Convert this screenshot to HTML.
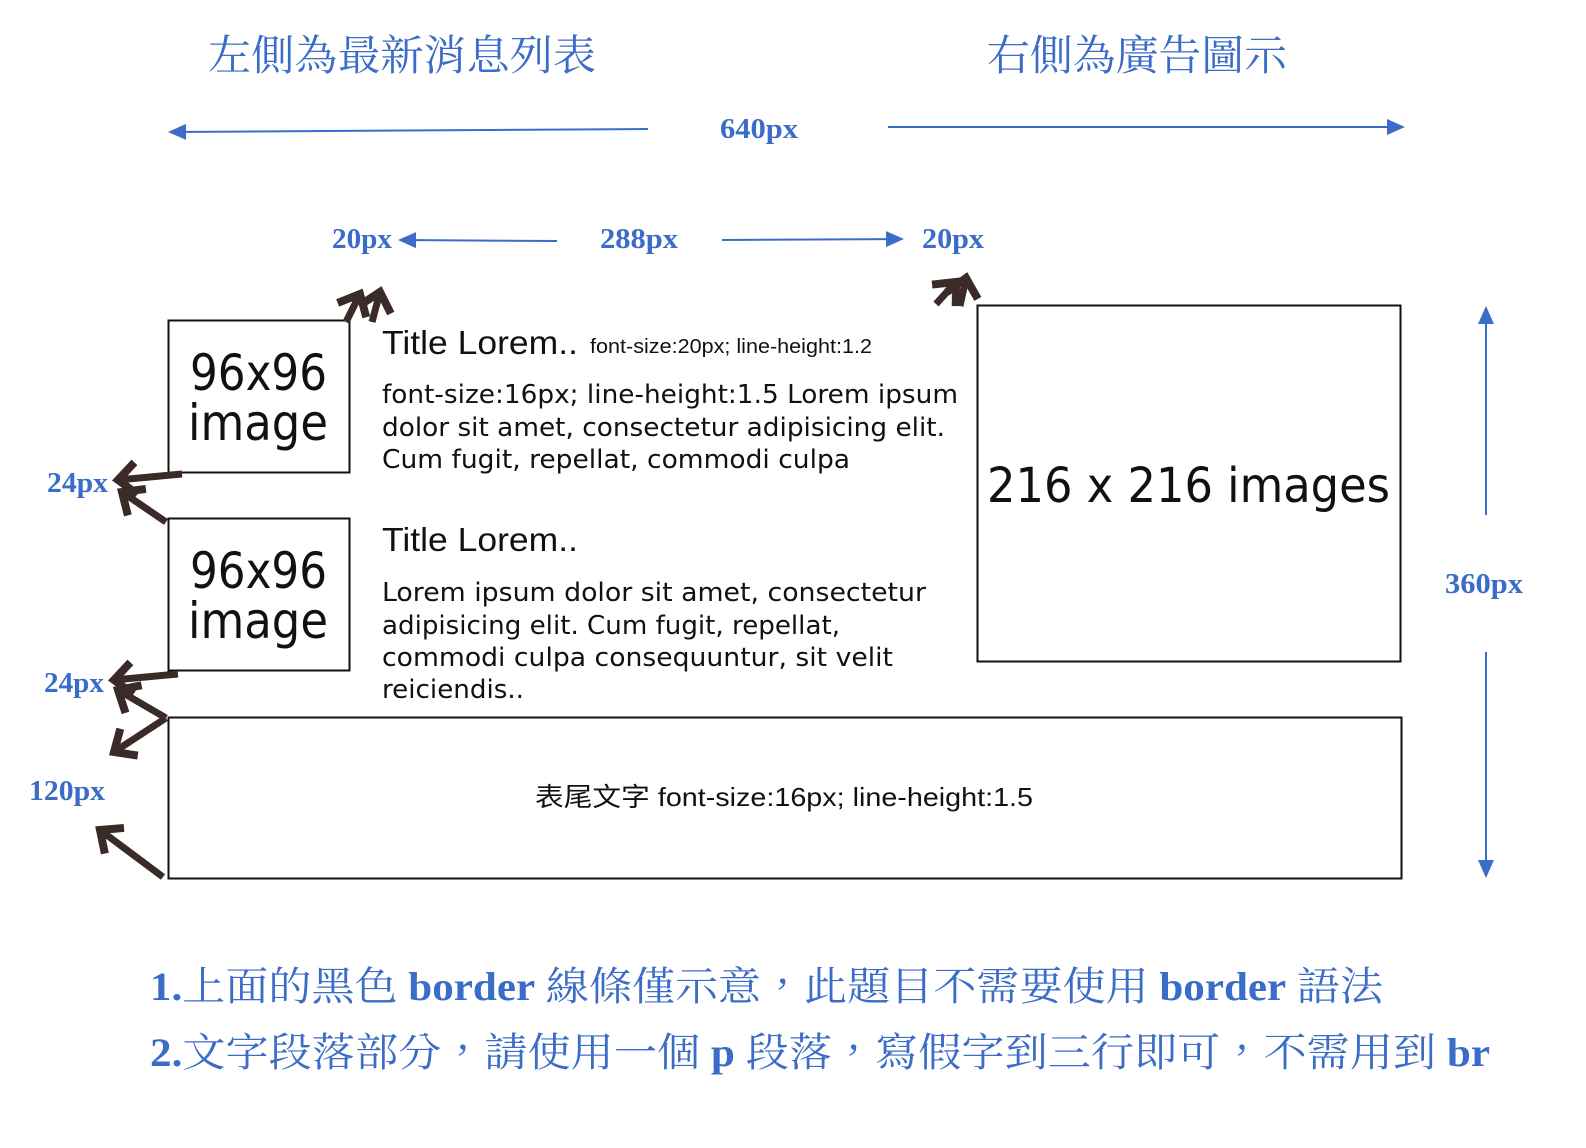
<!DOCTYPE html>
<html><head><meta charset="utf-8"><style>
html,body{margin:0;padding:0;background:#fff;}
svg{display:block}
.b{fill:#3b6cc7;font-family:"Liberation Serif","Noto Serif CJK TC",serif;font-weight:bold}
.cj{fill:#3b6cc7;font-family:"Liberation Serif","Noto Serif CJK TC",serif}
.os{font-family:"DejaVu Sans","Liberation Sans",sans-serif;fill:#111}
.ar{font-family:"Liberation Sans","Noto Sans CJK TC",sans-serif;fill:#111}
</style></head><body>
<svg width="1586" height="1148" viewBox="0 0 1586 1148" xmlns="http://www.w3.org/2000/svg">
<defs>
<marker id="bl" markerWidth="18" markerHeight="16" refX="16" refY="8" orient="auto" markerUnits="userSpaceOnUse" viewBox="0 0 18 16"><path d="M0,0 L18,8 L0,16 z" fill="#3b6cc7"/></marker>
<marker id="dk" markerWidth="30" markerHeight="40" refX="24" refY="20" orient="auto" markerUnits="userSpaceOnUse" viewBox="0 0 30 40"><path d="M6,4 L24,20 L6,36" fill="none" stroke="#3a2a28" stroke-width="8" stroke-linejoin="miter"/></marker>
</defs>
<!-- headings -->
<text class="cj" x="208" y="70" font-size="42" textLength="388" lengthAdjust="spacingAndGlyphs">左側為最新消息列表</text>
<text class="cj" x="987" y="70" font-size="42" textLength="300" lengthAdjust="spacingAndGlyphs">右側為廣告圖示</text>
<!-- 640 -->
<line x1="648" y1="129" x2="170" y2="132" stroke="#3b6cc7" stroke-width="2" marker-end="url(#bl)"/>
<line x1="888" y1="127" x2="1403" y2="127" stroke="#3b6cc7" stroke-width="2" marker-end="url(#bl)"/>
<text class="b" x="720" y="138" font-size="28" textLength="78" lengthAdjust="spacingAndGlyphs">640px</text>
<!-- 20/288/20 -->
<text class="b" x="332" y="248" font-size="28" textLength="60" lengthAdjust="spacingAndGlyphs">20px</text>
<line x1="557" y1="241" x2="400" y2="240" stroke="#3b6cc7" stroke-width="2" marker-end="url(#bl)"/>
<text class="b" x="600" y="248" font-size="28" textLength="78" lengthAdjust="spacingAndGlyphs">288px</text>
<line x1="722" y1="240" x2="902" y2="239" stroke="#3b6cc7" stroke-width="2" marker-end="url(#bl)"/>
<text class="b" x="922" y="248" font-size="28" textLength="62" lengthAdjust="spacingAndGlyphs">20px</text>
<!-- 360 -->
<line x1="1486" y1="515" x2="1486" y2="308" stroke="#3b6cc7" stroke-width="2" marker-end="url(#bl)"/>
<line x1="1486" y1="652" x2="1486" y2="876" stroke="#3b6cc7" stroke-width="2" marker-end="url(#bl)"/>
<text class="b" x="1445" y="593" font-size="28" textLength="78" lengthAdjust="spacingAndGlyphs">360px</text>
<!-- left labels -->
<text class="b" x="47" y="492" font-size="28" textLength="61" lengthAdjust="spacingAndGlyphs">24px</text>
<text class="b" x="44" y="692" font-size="28" textLength="60" lengthAdjust="spacingAndGlyphs">24px</text>
<text class="b" x="29" y="800" font-size="28" textLength="76" lengthAdjust="spacingAndGlyphs">120px</text>
<!-- boxes -->
<rect x="168.5" y="320.5" width="181" height="152" fill="none" stroke="#111" stroke-width="2"/>
<rect x="168.5" y="518.5" width="181" height="152" fill="none" stroke="#111" stroke-width="2"/>
<rect x="977.5" y="305.5" width="423" height="356" fill="none" stroke="#111" stroke-width="2"/>
<rect x="168.5" y="717.5" width="1233" height="161" fill="none" stroke="#111" stroke-width="2"/>
<text class="os" x="190" y="390" font-size="50" textLength="137" lengthAdjust="spacingAndGlyphs">96x96</text>
<text class="os" x="188" y="440" font-size="50" textLength="140" lengthAdjust="spacingAndGlyphs">image</text>
<text class="os" x="190" y="588" font-size="50" textLength="137" lengthAdjust="spacingAndGlyphs">96x96</text>
<text class="os" x="188" y="638" font-size="50" textLength="140" lengthAdjust="spacingAndGlyphs">image</text>
<text class="os" x="987" y="502" font-size="48" textLength="403" lengthAdjust="spacingAndGlyphs">216 x 216 images</text>
<!-- text -->
<text class="ar" x="382" y="354" font-size="33" textLength="196" lengthAdjust="spacingAndGlyphs">Title Lorem..</text>
<text class="ar" x="590" y="353" font-size="20" textLength="282" lengthAdjust="spacingAndGlyphs">font-size:20px; line-height:1.2</text>
<text class="os" x="382" y="403" font-size="26" textLength="576" lengthAdjust="spacingAndGlyphs">font-size:16px; line-height:1.5 Lorem ipsum</text>
<text class="os" x="382" y="436" font-size="26" textLength="563" lengthAdjust="spacingAndGlyphs">dolor sit amet, consectetur adipisicing elit.</text>
<text class="os" x="382" y="468" font-size="26" textLength="468" lengthAdjust="spacingAndGlyphs">Cum fugit, repellat, commodi culpa</text>
<text class="ar" x="382" y="551" font-size="33" textLength="196" lengthAdjust="spacingAndGlyphs">Title Lorem..</text>
<text class="os" x="382" y="601" font-size="26" textLength="544" lengthAdjust="spacingAndGlyphs">Lorem ipsum dolor sit amet, consectetur</text>
<text class="os" x="382" y="634" font-size="26" textLength="458" lengthAdjust="spacingAndGlyphs">adipisicing elit. Cum fugit, repellat,</text>
<text class="os" x="382" y="666" font-size="26" textLength="511" lengthAdjust="spacingAndGlyphs">commodi culpa consequuntur, sit velit</text>
<text class="os" x="382" y="698" font-size="26" textLength="142" lengthAdjust="spacingAndGlyphs">reiciendis..</text>
<text class="ar" x="535" y="806" font-size="26" textLength="498" lengthAdjust="spacingAndGlyphs">表尾文字 font-size:16px; line-height:1.5</text>
<!-- dark arrows -->
<g stroke="#3a2a28" stroke-width="7" fill="none" marker-end="url(#dk)">
<line x1="182" y1="474" x2="118" y2="480"/>
<line x1="166" y1="522" x2="122" y2="492"/>
<line x1="178" y1="674" x2="114" y2="680"/>
<line x1="166" y1="718" x2="118" y2="690"/>
<line x1="166" y1="718" x2="114" y2="752"/>
<line x1="163" y1="877" x2="100" y2="830"/>
<line x1="346" y1="322" x2="360" y2="294"/>
<line x1="372" y1="322" x2="380" y2="292"/>
<line x1="936" y1="304" x2="956" y2="282"/>
<line x1="960" y1="306" x2="966" y2="278"/>
</g>
<!-- notes -->
<text class="cj" x="150" y="1000" font-size="40" textLength="1233" lengthAdjust="spacingAndGlyphs"><tspan font-weight="bold">1.</tspan>上面的黑色 <tspan font-weight="bold">border</tspan> 線條僅示意，此題目不需要使用 <tspan font-weight="bold">border</tspan> 語法</text>
<text class="cj" x="150" y="1066" font-size="40" textLength="1340" lengthAdjust="spacingAndGlyphs"><tspan font-weight="bold">2.</tspan>文字段落部分，請使用一個 <tspan font-weight="bold">p</tspan> 段落，寫假字到三行即可，不需用到 <tspan font-weight="bold">br</tspan></text>
</svg>
</body></html>
